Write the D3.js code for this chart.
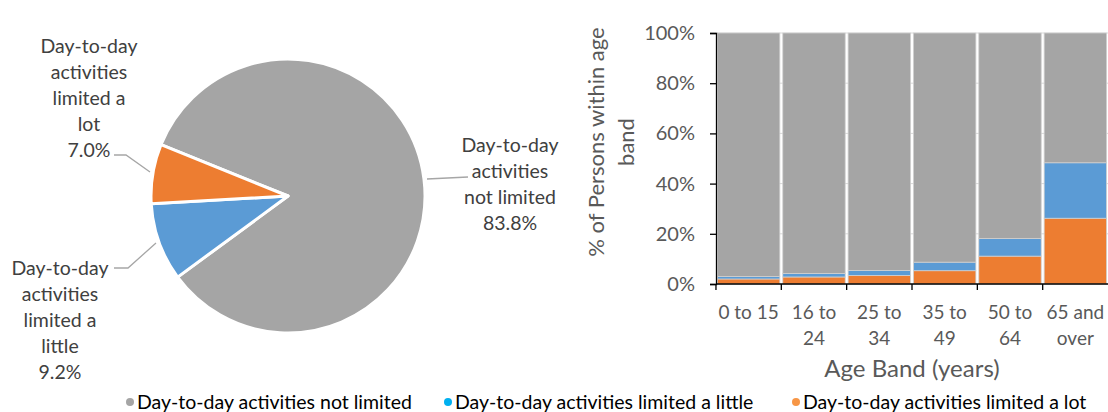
<!DOCTYPE html>
<html><head><meta charset="utf-8">
<script src="https://cdn.jsdelivr.net/npm/d3@7"></script>
<style>body{margin:0;background:#fff}svg{display:block}text{font-family:Lato,"Open Sans",sans-serif}</style>
</head><body><svg id="c" width="1108" height="412"></svg>
<script>
// Data
const pieCategories = ["Day-to-day activities not limited", "Day-to-day activities limited a little", "Day-to-day activities limited a lot"];
const pieValues = [83.8, 9.2, 7.0];
const pieLabelLines = [
  ["Day-to-day", "activities", "not limited", "83.8%"],
  ["Day-to-day", "activities", "limited a", "little", "9.2%"],
  ["Day-to-day", "activities", "limited a", "lot", "7.0%"]
];
const ageBands = ["0 to 15", "16 to 24", "25 to 34", "35 to 49", "50 to 64", "65 and over"];
const ageBandLines = [["0 to 15"], ["16 to", "24"], ["25 to", "34"], ["35 to", "49"], ["50 to", "64"], ["65 and", "over"]];
const limitedLot = [2.0, 2.8, 3.4, 5.3, 11.1, 26.2];
const limitedLittle = [1.0, 1.4, 2.0, 3.4, 7.0, 22.1];
const notLimited = limitedLot.map((v, i) => 100 - v - limitedLittle[i]);
const yTicks = [0, 20, 40, 60, 80, 100];
const legendLabels = ["Day-to-day activities not limited", "Day-to-day activities limited a little", "Day-to-day activities limited a lot"];

const colors = {notLimited: "#A5A5A5", little: "#5B9BD5", lot: "#ED7D31"};
const legendColors = ["#A5A5A5", "#00B0F0", "#F79646"];

const svg = d3.select("#c");

// ---------- Pie ----------
const cx = 288, cy = 196, R = 137;
const startDeg = -68;
const pie = d3.pie().sort(null).value(d => d)
  .startAngle(startDeg * Math.PI / 180).endAngle((startDeg + 360) * Math.PI / 180);
const arcs = pie(pieValues);
const arc = d3.arc().innerRadius(0).outerRadius(R);
const pieColors = [colors.notLimited, colors.little, colors.lot];
const gp = svg.append("g").attr("transform", `translate(${cx},${cy})`);
gp.selectAll("path").data(arcs).join("path")
  .attr("d", arc).attr("fill", (d, i) => pieColors[i])
  .attr("stroke", "#fff").attr("stroke-width", 3).attr("stroke-linejoin", "round");

// pie labels
const labelPos = [
  {x: 510, y: 145, lead: [[427, 179], [468, 177]]},
  {x: 60, y: 268, lead: [[156, 243], [128, 268], [114, 268]]},
  {x: 89, y: 46, lead: [[150, 172], [126, 155], [114, 155]]}
];
labelPos.forEach((p, i) => {
  svg.append("path").attr("d", d3.line()(p.lead)).attr("fill", "none")
    .attr("stroke", "#A6A6A6").attr("stroke-width", 1.3);
  const t = svg.append("text").attr("text-anchor", "middle").attr("fill", "#404040")
    .attr("font-size", 19.5);
  pieLabelLines[i].forEach((ln, k) => {
    t.append("tspan").attr("x", p.x).attr("y", p.y + k * 26).attr("dy", "0.35em").text(ln);
  });
});

// ---------- Stacked bar ----------
const x0 = 716, x1 = 1108, yTop = 33, yBot = 284;
const x = d3.scaleBand().domain(ageBands).range([x0, x1]).paddingInner(0.045).paddingOuter(0.022);
const y = d3.scaleLinear().domain([0, 100]).range([yBot, yTop]);

// gridlines
svg.append("g").selectAll("line").data(yTicks.slice(1)).join("line")
  .attr("x1", x0).attr("x2", x1).attr("y1", d => y(d)).attr("y2", d => y(d))
  .attr("stroke", "#D9D9D9").attr("stroke-width", 1);

const rows = ageBands.map((b, i) => ({band: b, lot: limitedLot[i], little: limitedLittle[i], notLimited: notLimited[i]}));
const stack = d3.stack().keys(["lot", "little", "notLimited"])(rows);
svg.append("g").selectAll("g").data(stack).join("g")
  .attr("fill", d => colors[d.key])
  .selectAll("rect").data(d => d).join("rect")
  .attr("x", d => x(d.data.band)).attr("width", x.bandwidth())
  .attr("y", d => y(d[1])).attr("height", d => y(d[0]) - y(d[1]))
  .attr("stroke", "#D0D0D0").attr("stroke-width", 0.8);

// y axis
const yAxis = d3.axisLeft(y).tickValues(yTicks).tickFormat(d => d + "%").tickSizeOuter(0).tickSize(6).tickPadding(15);
const ga = svg.append("g").attr("transform", `translate(${x0},0)`).call(yAxis);
ga.select(".domain").attr("stroke", "#000").attr("stroke-width", 1.3);
ga.selectAll(".tick line").attr("stroke", "#000").attr("stroke-width", 1.3);
ga.selectAll(".tick text").attr("fill", "#595959").attr("font-size", 20).attr("font-family", "Lato");

// x axis line
svg.append("line").attr("x1", x0).attr("x2", x1).attr("y1", yBot).attr("y2", yBot)
  .attr("stroke", "#000").attr("stroke-width", 1.3);
// ticks at category boundaries
const step = x.step();
const boundaries = ageBands.map((b, i) => x(b) - x.paddingInner() * step / 2);
svg.append("g").selectAll("line").data(boundaries).join("line")
  .attr("x1", d => d).attr("x2", d => d).attr("y1", yBot).attr("y2", yBot + 6)
  .attr("stroke", "#000").attr("stroke-width", 1.3);

// x labels
ageBands.forEach((b, i) => {
  const t = svg.append("text").attr("text-anchor", "middle").attr("fill", "#595959").attr("font-size", 19);
  ageBandLines[i].forEach((ln, k) => {
    t.append("tspan").attr("x", x(b) + x.bandwidth() / 2).attr("y", 312 + k * 26).attr("dy", "0.35em").text(ln);
  });
});

// axis titles
svg.append("text").attr("x", 912).attr("y", 369).attr("dy", "0.35em").attr("text-anchor", "middle")
  .attr("fill", "#595959").attr("font-size", 24).text("Age Band (years)");
const yt = svg.append("text").attr("transform", "translate(596,142) rotate(-90)").attr("text-anchor", "middle")
  .attr("fill", "#595959").attr("font-size", 22);
yt.append("tspan").attr("x", 0).attr("y", 0).attr("dy", "0.35em").text("% of Persons within age");
yt.append("tspan").attr("x", 0).attr("y", 30).attr("dy", "0.35em").text("band");

// ---------- Legend ----------
const legX = [130, 448, 796];
legendLabels.forEach((l, i) => {
  svg.append("circle").attr("cx", legX[i]).attr("cy", 402).attr("r", 4).attr("fill", legendColors[i]);
  svg.append("text").attr("x", legX[i] + 7).attr("y", 402).attr("dy", "0.35em").attr("fill", "#000")
    .attr("font-size", 19.5).text(l);
});
</script></body></html>
